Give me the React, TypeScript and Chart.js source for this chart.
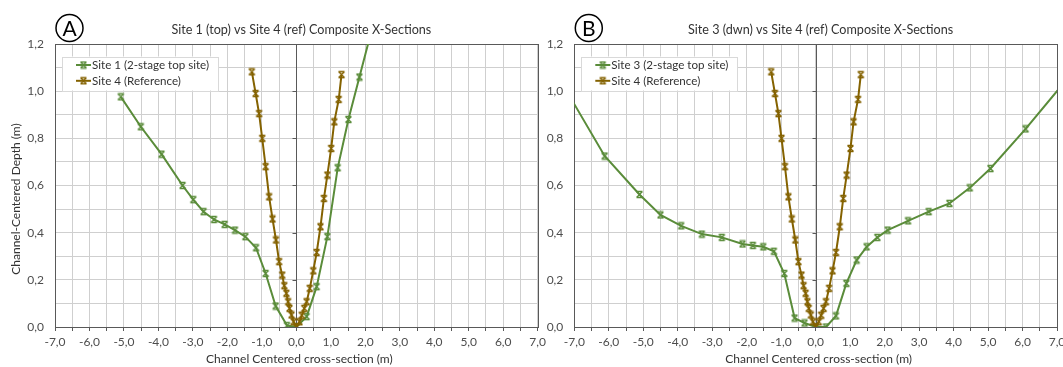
import React, { useEffect, useRef } from 'react';
import { Chart, registerables } from 'chart.js';

Chart.register(...registerables);

const FONT = 'Lato, "Open Sans", sans-serif';
const TEXT_DARK = '#333333';
const TICK_TEXT = '#4d4d4d';
const AXIS_DARK = '#595959';
const GRID = '#cfcfcf';
const GREEN = '#5a8c3a';
const BROWN = '#846200';

// Site 1 (2-stage top site) cross-section: offset from channel centre (m) and depth (m)
const site1X = [-5.09, -4.51, -3.91, -3.3, -2.99, -2.69, -2.39, -2.08, -1.78, -1.48, -1.17, -0.89, -0.6, -0.27, 0.0, 0.3, 0.59, 0.9, 1.2, 1.51, 1.83, 2.4];
const site1Depth = [0.976, 0.849, 0.733, 0.6, 0.54, 0.489, 0.456, 0.435, 0.411, 0.383, 0.336, 0.227, 0.089, 0.006, 0.0, 0.044, 0.171, 0.383, 0.675, 0.88, 1.06, 1.38];

// Site 3 (downstream) cross-section
const site3X = [-7.3, -6.12, -5.11, -4.5, -3.9, -3.3, -2.72, -2.12, -1.82, -1.52, -1.21, -0.91, -0.61, -0.32, 0.0, 0.3, 0.59, 0.89, 1.19, 1.48, 1.79, 2.09, 2.68, 3.28, 3.88, 4.47, 5.07, 6.09, 7.3];
const site3Depth = [1.02, 0.725, 0.562, 0.475, 0.429, 0.394, 0.38, 0.352, 0.346, 0.34, 0.321, 0.227, 0.038, 0.017, 0.0, 0.0, 0.047, 0.185, 0.284, 0.34, 0.38, 0.411, 0.45, 0.489, 0.524, 0.59, 0.672, 0.84, 1.053];

// Site 4 (reference) cross-section, shown in both panels
const site4X = [-1.29, -1.18, -1.08, -0.99, -0.89, -0.79, -0.69, -0.59, -0.5, -0.41, -0.35, -0.29, -0.24, -0.2, -0.14, -0.08, 0.0, 0.09, 0.16, 0.23, 0.3, 0.39, 0.49, 0.59, 0.7, 0.8, 0.9, 1.01, 1.1, 1.23, 1.31];
const site4Depth = [1.082, 0.99, 0.905, 0.8, 0.68, 0.552, 0.458, 0.369, 0.277, 0.22, 0.175, 0.143, 0.107, 0.079, 0.051, 0.022, 0.0, 0.022, 0.05, 0.079, 0.107, 0.164, 0.238, 0.316, 0.425, 0.545, 0.644, 0.757, 0.87, 0.965, 1.07];

// Axis ranges and tick spacing
const xRange = [-7, 7];
const xStep = 0.5;
const xLabelStep = 1;
const depthRange = [0, 1.2];
const depthStep = 0.1;
const depthLabelStep = 0.2;

const X_TITLE = 'Channel Centered cross-section (m)';
const Y_TITLE = 'Channel-Centered Depth (m)';
const SITE4_LABEL = 'Site 4 (Reference)';

const fmt = (v: number) => v.toFixed(1).replace('.', ',').replace('-0,0', '0,0');
const isMultiple = (v: number, step: number) => Math.abs(v / step - Math.round(v / step)) < 1e-6;
const toPoints = (xs: number[], ys: number[]) => xs.map((x, i) => ({ x, y: ys[i] }));

// "x" marker with flat caps, drawn once per colour
function makeMarker(color: string): HTMLCanvasElement {
  const c = document.createElement('canvas');
  c.width = 9;
  c.height = 9;
  const g = c.getContext('2d')!;
  g.strokeStyle = color;
  g.lineWidth = 1.3;
  g.beginPath();
  g.moveTo(1.5, 1.5); g.lineTo(7.5, 7.5);
  g.moveTo(7.5, 1.5); g.lineTo(1.5, 7.5);
  g.moveTo(1.5, 1.5); g.lineTo(7.5, 1.5);
  g.moveTo(1.5, 7.5); g.lineTo(7.5, 7.5);
  g.stroke();
  return c;
}

type PanelOpts = {
  letter: string;
  title: string;
  legend: { label: string; color: string; marker: HTMLCanvasElement }[];
  yTitle: string | null;
};

// Frame, centred depth axis, titles, panel letter and legend
const decorPlugin = {
  id: 'decor',
  beforeDatasetsDraw(chart: any) {
    const { ctx, chartArea: a, scales } = chart;
    ctx.save();
    ctx.strokeStyle = AXIS_DARK;
    ctx.lineWidth = 1;
    const px = Math.round(scales.x.getPixelForValue(0)) + 0.5;
    ctx.beginPath();
    ctx.moveTo(px, a.top);
    ctx.lineTo(px, a.bottom);
    for (let v = depthRange[0] + depthLabelStep; v < depthRange[1] - 1e-6; v += depthLabelStep) {
      const py = Math.round(scales.y.getPixelForValue(v)) + 0.5;
      ctx.moveTo(px - 4, py);
      ctx.lineTo(px, py);
    }
    ctx.stroke();
    ctx.strokeRect(Math.round(a.left) + 0.5, Math.round(a.top) + 0.5, Math.round(a.right - a.left), Math.round(a.bottom - a.top));
    ctx.restore();
  },
  afterDraw(chart: any, _args: any, opts: PanelOpts) {
    const { ctx, chartArea: a } = chart;
    const cx = (a.left + a.right) / 2;
    ctx.save();
    ctx.fillStyle = TEXT_DARK;
    ctx.textBaseline = 'middle';

    // chart title
    ctx.font = `12.6px ${FONT}`;
    ctx.textAlign = 'center';
    ctx.fillText(opts.title, cx + 5, 30);

    // x-axis title
    ctx.font = `12px ${FONT}`;
    ctx.fillText(X_TITLE, cx + 3, 359);

    // y-axis title
    if (opts.yTitle) {
      ctx.save();
      ctx.translate(16, 199);
      ctx.rotate(-Math.PI / 2);
      ctx.fillText(opts.yTitle, 0, 0);
      ctx.restore();
    }

    // panel letter in a circle
    const lx = a.left + 14.5;
    ctx.strokeStyle = '#000';
    ctx.lineWidth = 1.5;
    ctx.beginPath();
    ctx.arc(lx, 28, 13.5, 0, Math.PI * 2);
    ctx.stroke();
    ctx.fillStyle = '#000';
    ctx.font = `21px ${FONT}`;
    ctx.fillText(opts.letter, lx, 29);

    // legend box
    const bx = a.left + 7;
    const by = a.top + 12.5;
    ctx.fillStyle = '#fff';
    ctx.fillRect(bx, by, 156, 34);
    ctx.strokeStyle = '#d9d9d9';
    ctx.lineWidth = 1;
    ctx.strokeRect(Math.round(bx) + 0.5, Math.round(by) + 0.5, 156, 34);
    ctx.font = `11.6px ${FONT}`;
    ctx.textAlign = 'left';
    opts.legend.forEach((item, i) => {
      const ry = by + 8.5 + i * 15.8;
      ctx.strokeStyle = item.color;
      ctx.lineWidth = 2;
      ctx.beginPath();
      ctx.moveTo(bx + 14, ry);
      ctx.lineTo(bx + 29, ry);
      ctx.stroke();
      ctx.drawImage(item.marker, bx + 21.5 - 4.5, ry - 4.5);
      ctx.fillStyle = TEXT_DARK;
      ctx.fillText(item.label, bx + 30, ry);
    });
    ctx.restore();
  },
};

function buildConfig(
  greenLabel: string,
  greenX: number[],
  greenY: number[],
  panel: Omit<PanelOpts, 'legend'>,
  yWidth: number,
  padRight: number,
  markers: { green: HTMLCanvasElement; brown: HTMLCanvasElement }
): any {
  return {
    type: 'line',
    data: {
      datasets: [
        {
          label: SITE4_LABEL,
          data: toPoints(site4X, site4Depth),
          borderColor: BROWN,
          backgroundColor: BROWN,
          borderWidth: 2,
          pointStyle: markers.brown,
          pointRadius: 4,
          tension: 0,
          clip: 0,
        },
        {
          label: greenLabel,
          data: toPoints(greenX, greenY),
          borderColor: GREEN,
          backgroundColor: GREEN,
          borderWidth: 2,
          pointStyle: markers.green,
          pointRadius: 4,
          tension: 0,
          clip: 0,
        },
      ],
    },
    options: {
      animation: false,
      responsive: false,
      events: [],
      layout: { padding: { left: 0, right: padRight, top: 44, bottom: 0 } },
      plugins: {
        legend: { display: false },
        title: { display: false },
        tooltip: { enabled: false },
        decor: {
          ...panel,
          legend: [
            { label: greenLabel, color: GREEN, marker: markers.green },
            { label: SITE4_LABEL, color: BROWN, marker: markers.brown },
          ],
        },
      },
      scales: {
        x: {
          type: 'linear',
          min: xRange[0],
          max: xRange[1],
          afterFit: (s: any) => { s.height = 40; },
          grid: { color: GRID, lineWidth: 1, drawTicks: true, tickLength: 4, tickColor: AXIS_DARK },
          border: { display: true, color: AXIS_DARK },
          ticks: {
            stepSize: xStep,
            autoSkip: false,
            maxRotation: 0,
            padding: 4,
            color: TICK_TEXT,
            font: { family: FONT, size: 12 },
            callback: (v: number) => (isMultiple(v, xLabelStep) ? fmt(v) : ''),
          },
        },
        y: {
          type: 'linear',
          min: depthRange[0],
          max: depthRange[1],
          afterFit: (s: any) => { s.width = yWidth; },
          grid: { color: GRID, lineWidth: 1, drawTicks: false },
          border: { display: true, color: AXIS_DARK },
          ticks: {
            stepSize: depthStep,
            autoSkip: false,
            padding: 11,
            color: TICK_TEXT,
            font: { family: FONT, size: 12 },
            callback: (v: number) => (isMultiple(v, depthLabelStep) ? fmt(v) : ''),
          },
        },
      },
    },
    plugins: [decorPlugin],
  };
}

function Panel(props: {
  left: number;
  width: number;
  build: (m: { green: HTMLCanvasElement; brown: HTMLCanvasElement }) => any;
}) {
  const ref = useRef<HTMLCanvasElement | null>(null);
  useEffect(() => {
    if (!ref.current) return;
    const markers = { green: makeMarker(GREEN), brown: makeMarker(BROWN) };
    const chart = new Chart(ref.current, props.build(markers));
    return () => chart.destroy();
  }, []);
  return (
    <canvas
      ref={ref}
      width={props.width}
      height={367}
      style={{ position: 'absolute', left: props.left, top: 0, width: props.width, height: 367 }}
    />
  );
}

export default function App() {
  return (
    <div
      style={{
        position: 'fixed',
        left: 0,
        top: 0,
        width: 1063,
        height: 367,
        overflow: 'hidden',
        background: '#fff',
      }}
    >
      <Panel
        left={0}
        width={550}
        build={(m) =>
          buildConfig(
            'Site 1 (2-stage top site)',
            site1X,
            site1Depth,
            { letter: 'A', title: 'Site 1 (top) vs Site 4 (ref) Composite X-Sections', yTitle: Y_TITLE },
            55,
            12,
            m
          )
        }
      />
      <Panel
        left={540}
        width={535}
        build={(m) =>
          buildConfig(
            'Site 3 (2-stage top site)',
            site3X,
            site3Depth,
            { letter: 'B', title: 'Site 3 (dwn) vs Site 4 (ref) Composite X-Sections', yTitle: null },
            34.3,
            18,
            m
          )
        }
      />
    </div>
  );
}
